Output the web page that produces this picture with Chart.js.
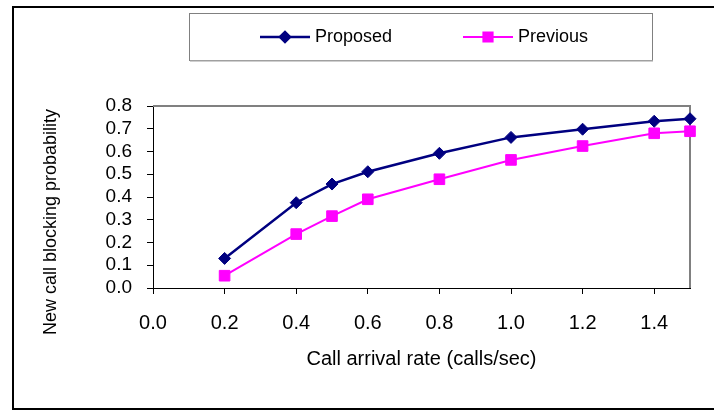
<!DOCTYPE html>
<html>
<head>
    <title>New call blocking probability</title>
    <script src="https://cdn.jsdelivr.net/npm/chart.js"></script>
    <style>
        body {
            margin: 0;
            background: white;
        }

        .wrap {
            width: 714px;
            height: 411px;
        }
    </style>
</head>
<body>
    <div class="wrap">
        <canvas id="blockingChart" width="714" height="411"></canvas>
    </div>

    <script>
        const arrivalRates = [0.2, 0.4, 0.5, 0.6, 0.8, 1.0, 1.2, 1.4, 1.5];
        const proposed = [0.13, 0.375, 0.457, 0.511, 0.592, 0.662, 0.698, 0.733, 0.744];
        const previous = [0.054, 0.237, 0.316, 0.39, 0.478, 0.563, 0.624, 0.68, 0.689];
        const seriesNames = ['Proposed', 'Previous'];

        const fontFamily = "'Liberation Sans', Arial, sans-serif";

        const toPoints = (values) => arrivalRates.map((x, i) => ({ x: x, y: values[i] }));

        // outer frame, plot box (gray top/right) and the y title
        const framePlugin = {
            id: 'frame',
            beforeDatasetsDraw(chart) {
                const { ctx, chartArea } = chart;
                ctx.save();
                ctx.strokeStyle = '#808080';
                ctx.lineWidth = 2;
                ctx.beginPath();
                ctx.moveTo(chartArea.left, chartArea.top);
                ctx.lineTo(chartArea.right, chartArea.top);
                ctx.lineTo(chartArea.right, chartArea.bottom);
                ctx.stroke();
                ctx.restore();
            },
            afterDraw(chart) {
                const ctx = chart.ctx;
                ctx.save();
                ctx.strokeStyle = '#000';
                ctx.lineWidth = 2;
                ctx.strokeRect(13, 7, 720, 402);

                ctx.translate(51, 222);
                ctx.rotate(-Math.PI / 2);
                ctx.fillStyle = '#000';
                ctx.font = '18px ' + fontFamily;
                ctx.textAlign = 'center';
                ctx.textBaseline = 'middle';
                ctx.fillText('New call blocking probability', 0, 0);
                ctx.restore();
            }
        };

        // boxed legend at the top
        const legendPlugin = {
            id: 'boxLegend',
            afterDraw(chart) {
                const ctx = chart.ctx;
                const starts = [260, 463];
                ctx.save();
                ctx.strokeStyle = '#808080';
                ctx.lineWidth = 1;
                ctx.strokeRect(189.5, 13.5, 463, 47);
                ctx.fillStyle = '#a0a0a0';
                ctx.fillRect(190, 60, 463, 1.5);

                chart.data.datasets.forEach((ds, i) => {
                    const x0 = starts[i];
                    const y = 37;
                    ctx.strokeStyle = ds.borderColor;
                    ctx.lineWidth = ds.borderWidth;
                    ctx.beginPath();
                    ctx.moveTo(x0, y);
                    ctx.lineTo(x0 + 50, y);
                    ctx.stroke();
                    ctx.fillStyle = ds.pointBackgroundColor;
                    ctx.strokeStyle = ds.pointBorderColor;
                    Chart.helpers.drawPoint(ctx, {
                        pointStyle: ds.pointStyle,
                        radius: ds.pointRadius - 1,
                        rotation: 0,
                        borderWidth: 1
                    }, x0 + 25, y);

                    ctx.fillStyle = '#000';
                    ctx.font = '18px ' + fontFamily;
                    ctx.textAlign = 'left';
                    ctx.textBaseline = 'middle';
                    ctx.fillText(ds.label, x0 + 55, y);
                });
                ctx.restore();
            }
        };

        new Chart(document.getElementById('blockingChart'), {
            type: 'line',
            data: {
                datasets: [{
                    label: seriesNames[0],
                    data: toPoints(proposed),
                    borderColor: '#000080',
                    borderWidth: 2.5,
                    pointStyle: 'rectRot',
                    pointRadius: 6,
                    pointBackgroundColor: '#000080',
                    pointBorderColor: '#000080',
                    pointBorderWidth: 1,
                    clip: false
                }, {
                    label: seriesNames[1],
                    data: toPoints(previous),
                    borderColor: '#ff00ff',
                    borderWidth: 2,
                    pointStyle: 'rect',
                    pointRadius: 7.5,
                    pointBackgroundColor: '#ff00ff',
                    pointBorderColor: '#ff00ff',
                    pointBorderWidth: 1,
                    clip: false
                }]
            },
            options: {
                responsive: false,
                animation: false,
                layout: {
                    padding: { top: 106, right: 24, left: 0, bottom: 0 }
                },
                plugins: {
                    legend: { display: false },
                    tooltip: { enabled: false }
                },
                scales: {
                    x: {
                        type: 'linear',
                        min: 0,
                        max: 1.5,
                        afterFit: (scale) => { scale.height = 123; },
                        border: { color: '#000', width: 1 },
                        grid: {
                            drawOnChartArea: false,
                            drawTicks: true,
                            tickLength: 6,
                            color: '#000'
                        },
                        ticks: {
                            stepSize: 0.2,
                            includeBounds: false,
                            autoSkip: false,
                            padding: 17,
                            color: '#000',
                            font: { family: fontFamily, size: 20 },
                            callback: (v) => v.toFixed(1)
                        },
                        title: {
                            display: true,
                            text: 'Call arrival rate (calls/sec)',
                            color: '#000',
                            font: { family: fontFamily, size: 20 },
                            padding: { top: 0, bottom: 40 }
                        }
                    },
                    y: {
                        min: 0,
                        max: 0.8,
                        afterFit: (scale) => { scale.width = 153; },
                        border: { color: '#000', width: 1 },
                        grid: {
                            drawOnChartArea: false,
                            drawTicks: true,
                            tickLength: 6,
                            color: '#000'
                        },
                        ticks: {
                            stepSize: 0.1,
                            autoSkip: false,
                            padding: 15,
                            color: '#000',
                            font: { family: fontFamily, size: 19 },
                            callback: (v) => v.toFixed(1)
                        }
                    }
                }
            },
            plugins: [framePlugin, legendPlugin]
        });
    </script>
</body>
</html>
